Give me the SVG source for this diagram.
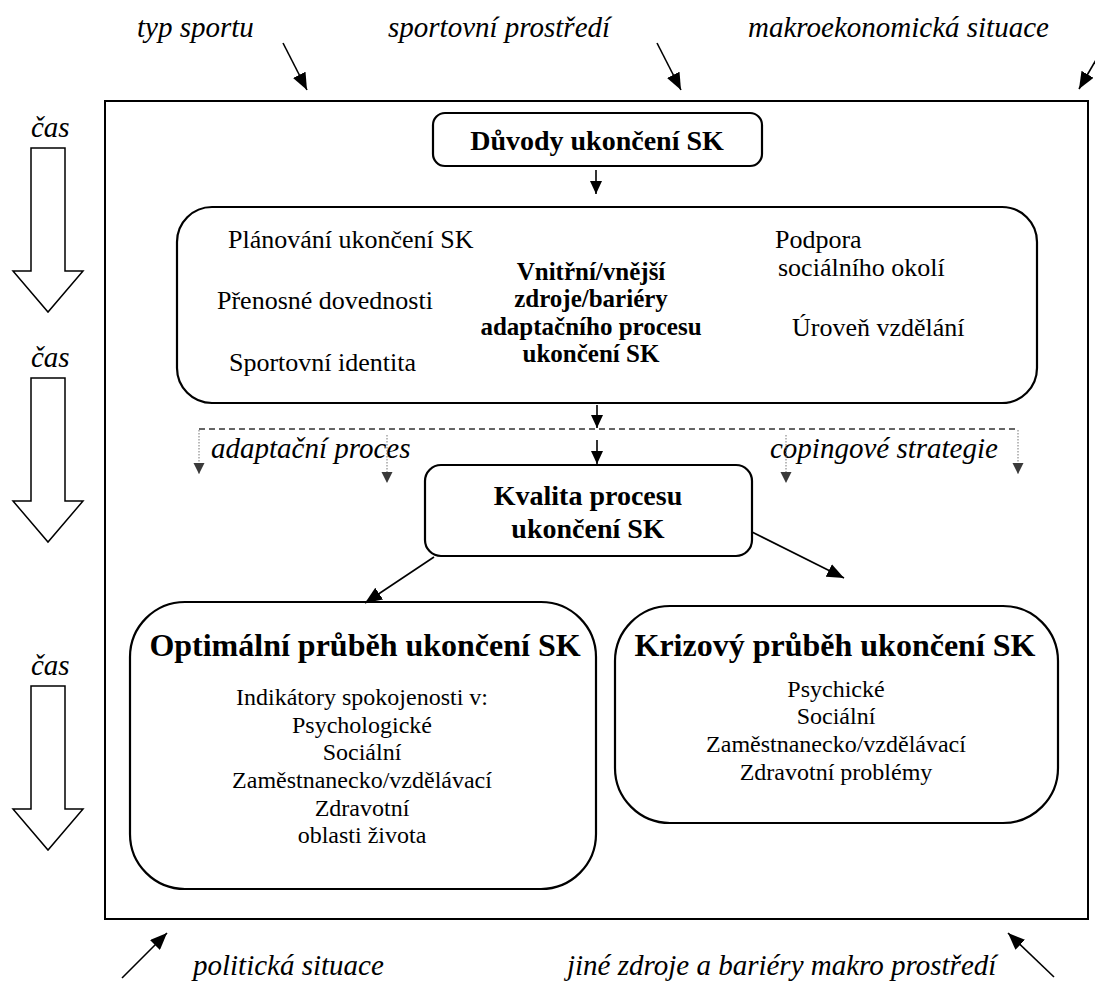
<svg xmlns="http://www.w3.org/2000/svg" width="1095" height="983" viewBox="0 0 1095 983">
  <defs>
    <style>
      .bg { fill: #ffffff; }
      .frame { fill: none; stroke: #000; stroke-width: 2; }
      .box { fill: #fff; stroke: #000; stroke-width: 2.2; }
      .time { fill: #fff; stroke: #000; stroke-width: 1.5; }
      .lbl { font-family: "Liberation Serif", "Times New Roman", serif; font-style: italic; font-size: 29px; fill: #000; }
      .reg { font-family: "Liberation Serif", "Times New Roman", serif; font-size: 24px; fill: #000; }
      .reg26 { font-family: "Liberation Serif", "Times New Roman", serif; font-size: 26px; fill: #000; }
      .bold { font-family: "Liberation Serif", "Times New Roman", serif; font-weight: bold; font-size: 28px; fill: #000; }
      .bold25 { font-family: "Liberation Serif", "Times New Roman", serif; font-weight: bold; font-size: 25px; fill: #000; }
      .head { font-family: "Liberation Serif", "Times New Roman", serif; font-weight: bold; font-size: 32px; fill: #000; }
      .mid { text-anchor: middle; }
      .conn { fill: none; stroke: #000; stroke-width: 1.6; }
      .dash { fill: none; stroke: #333; stroke-width: 1.5; stroke-dasharray: 6 4; }
      .dot { fill: none; stroke: #777; stroke-width: 1; stroke-dasharray: 1.5 1.5; }
    </style>
    <marker id="ah" markerUnits="userSpaceOnUse" markerWidth="18" markerHeight="14" refX="17" refY="7" orient="auto">
      <path d="M0,0 L17,7 L0,14 z" fill="#000"/>
    </marker>
    <marker id="ahs" markerUnits="userSpaceOnUse" markerWidth="14" markerHeight="12" refX="13" refY="6" orient="auto">
      <path d="M0,0 L13,6 L0,12 z" fill="#000"/>
    </marker>
    <marker id="ahg" markerUnits="userSpaceOnUse" markerWidth="12" markerHeight="12" refX="11" refY="5.5" orient="auto">
      <path d="M0,0 L11,5.5 L0,11 z" fill="#3a3a3a"/>
    </marker>
  </defs>

  <rect class="bg" x="0" y="0" width="1095" height="983"/>

  <!-- surrounding environment labels -->
  <g id="env-top">
    <text class="lbl" x="137" y="37">typ sportu</text>
    <text class="lbl" x="388" y="37">sportovní prostředí</text>
    <text class="lbl" x="748" y="37">makroekonomická situace</text>
  </g>
  <g id="env-bottom">
    <text class="lbl" x="193" y="975">politická situace</text>
    <text class="lbl" x="567" y="975">jiné zdroje a bariéry makro prostředí</text>
  </g>

  <!-- outer frame -->
  <g id="frame">
    <rect class="frame" x="105" y="101" width="983" height="818"/>
  </g>

  <!-- time axis -->
  <g id="time-1">
    <text class="lbl" x="31" y="137">čas</text>
    <polygon class="time" points="31,148 65,148 65,271 83,271 48,312 13,271 31,271"/>
  </g>
  <g id="time-2">
    <text class="lbl" x="31" y="367">čas</text>
    <polygon class="time" points="31,378 65,378 65,501 83,501 48,542 13,501 31,501"/>
  </g>
  <g id="time-3">
    <text class="lbl" x="31" y="675">čas</text>
    <polygon class="time" points="31,686 65,686 65,809 83,809 48,850 13,809 31,809"/>
  </g>

  <!-- nodes -->
  <g id="duvody">
    <rect class="box" x="433" y="113" width="329" height="53" rx="12"/>
    <text class="bold mid" x="597" y="150">Důvody ukončení SK</text>
  </g>

  <g id="zdroje">
    <rect class="box" x="177" y="207" width="860" height="196" rx="35"/>
    <text class="reg26" x="228" y="248">Plánování ukončení SK</text>
    <text class="reg26" x="217" y="309">Přenosné dovednosti</text>
    <text class="reg26" x="229" y="371">Sportovní identita</text>
    <text class="bold25 mid" x="591" y="280">Vnitřní/vnější</text>
    <text class="bold25 mid" x="591" y="307">zdroje/bariéry</text>
    <text class="bold25 mid" x="591" y="335">adaptačního procesu</text>
    <text class="bold25 mid" x="591" y="362">ukončení SK</text>
    <text class="reg26" x="775" y="248">Podpora</text>
    <text class="reg26" x="778" y="276">sociálního okolí</text>
    <text class="reg26" x="792" y="336">Úroveň vzdělání</text>
  </g>

  <g id="kvalita">
    <rect class="box" x="425" y="465" width="327" height="91" rx="16"/>
    <text class="bold mid" x="588" y="505">Kvalita procesu</text>
    <text class="bold mid" x="588" y="538">ukončení SK</text>
  </g>

  <g id="optimalni">
    <rect class="box" x="130" y="602" width="466" height="287" rx="55"/>
    <text class="head mid" x="365" y="656">Optimální průběh ukončení SK</text>
    <text class="reg mid" x="362" y="705">Indikátory spokojenosti v:</text>
    <text class="reg mid" x="362" y="733">Psychologické</text>
    <text class="reg mid" x="362" y="760">Sociální</text>
    <text class="reg mid" x="362" y="788">Zaměstnanecko/vzdělávací</text>
    <text class="reg mid" x="362" y="816">Zdravotní</text>
    <text class="reg mid" x="362" y="843">oblasti života</text>
  </g>

  <g id="krizovy">
    <rect class="box" x="615" y="606" width="443" height="217" rx="55"/>
    <text class="head mid" x="835" y="656">Krizový průběh ukončení SK</text>
    <text class="reg mid" x="836" y="697">Psychické</text>
    <text class="reg mid" x="836" y="724">Sociální</text>
    <text class="reg mid" x="836" y="752">Zaměstnanecko/vzdělávací</text>
    <text class="reg mid" x="836" y="780">Zdravotní problémy</text>
  </g>

  <g id="coping-labels">
    <text class="lbl" x="211" y="458">adaptační proces</text>
    <text class="lbl" x="770" y="458">copingové strategie</text>
  </g>

  <!-- connectors -->
  <g id="connectors">
    <line class="conn" x1="283" y1="43" x2="307" y2="90" marker-end="url(#ah)"/>
    <line class="conn" x1="657" y1="43" x2="681" y2="90" marker-end="url(#ah)"/>
    <line class="conn" x1="1100" y1="53" x2="1079" y2="89" marker-end="url(#ah)"/>
    <line class="conn" x1="122" y1="978" x2="167" y2="933" marker-end="url(#ah)"/>
    <line class="conn" x1="1054" y1="977" x2="1008" y2="933" marker-end="url(#ah)"/>

    <line class="conn" x1="596" y1="170" x2="596" y2="194" marker-end="url(#ahs)"/>
    <line class="conn" x1="597" y1="405" x2="597" y2="428" marker-end="url(#ahs)"/>
    <line class="dash" x1="199" y1="429" x2="1018" y2="429"/>
    <line class="conn" x1="597" y1="440" x2="597" y2="464" marker-end="url(#ahs)"/>

    <line class="dot" x1="199" y1="430" x2="199" y2="474" marker-end="url(#ahg)"/>
    <line class="dot" x1="387" y1="435" x2="387" y2="483" marker-end="url(#ahg)"/>
    <line class="dot" x1="786" y1="435" x2="786" y2="483" marker-end="url(#ahg)"/>
    <line class="dot" x1="1018" y1="430" x2="1018" y2="474" marker-end="url(#ahg)"/>

    <line class="conn" x1="434" y1="557" x2="365" y2="603" marker-end="url(#ah)"/>
    <line class="conn" x1="752" y1="532" x2="844" y2="578" marker-end="url(#ah)"/>
  </g>
</svg>
